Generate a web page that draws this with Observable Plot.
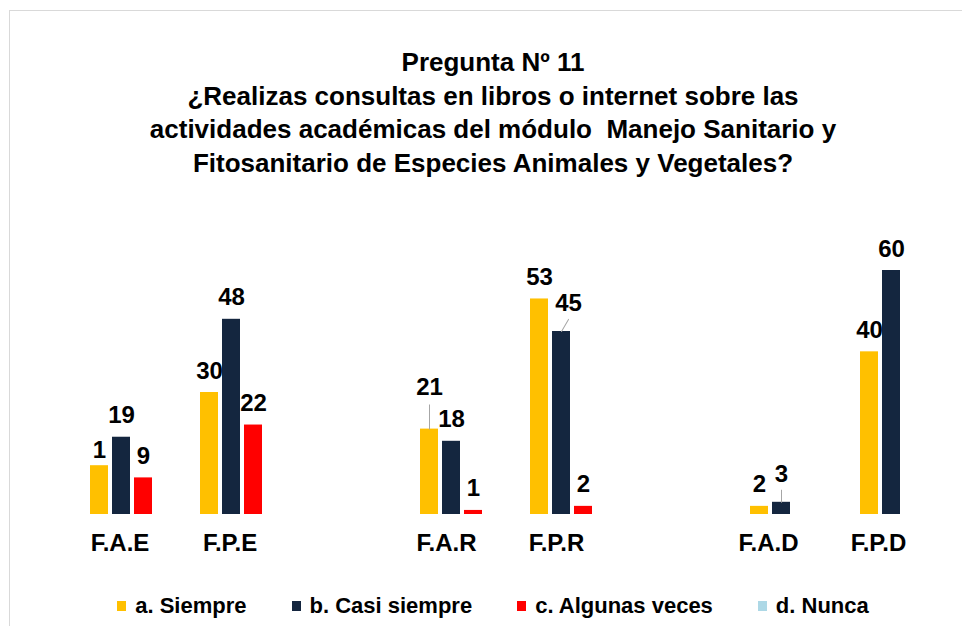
<!DOCTYPE html>
<html><head><meta charset="utf-8">
<script src="https://cdn.jsdelivr.net/npm/d3@7"></script>
<script src="https://cdn.jsdelivr.net/npm/@observablehq/plot@0.6"></script>
<style>
html,body{margin:0;padding:0;background:#fff;}
#wrap{position:relative;width:962px;height:626px;overflow:hidden;font-family:"Liberation Sans",Arial,sans-serif;color:#000;}
#frame{position:absolute;left:9px;top:10px;width:1000px;height:700px;border-top:1px solid #d9d9d9;border-left:1px solid #d9d9d9;}
#title{position:absolute;left:9px;width:968px;top:46px;text-align:center;font-weight:bold;font-size:26px;line-height:33.5px;}
#chart{position:absolute;left:0;top:200px;}
#legend{position:absolute;left:9px;width:968px;top:593px;display:flex;justify-content:center;gap:45px;font-weight:bold;font-size:22px;line-height:26px;}
.item{display:flex;align-items:center;white-space:nowrap;}
.sw{width:9px;height:10px;margin-right:9px;display:inline-block;}
</style></head>
<body>
<div id="wrap">
  <div id="frame"></div>
  <div id="title">Pregunta Nº 11<br>¿Realizas consultas en libros o internet sobre las<br>actividades académicas del módulo&nbsp; Manejo Sanitario y<br>Fitosanitario de Especies Animales y Vegetales?</div>
  <div id="chart"></div>
  <div id="legend"></div>
</div>
<script>
const categories = ["F.A.E", "F.P.E", "F.A.R", "F.P.R", "F.A.D", "F.P.D"];
const slots = ["F.A.E", "F.P.E", "gap1", "F.A.R", "F.P.R", "gap2", "F.A.D", "F.P.D"];
const seriesNames = ["a. Siempre", "b. Casi siempre", "c. Algunas veces", "d. Nunca"];
const seriesColors = ["#FFC000", "#14263F", "#FF0000", "#ADD8E6"];
const siempre = [12, 30, 21, 53, 2, 40];
const casiSiempre = [19, 48, 18, 45, 3, 60];
const algunasVeces = [9, 22, 1, 2, null, null];
const nunca = [null, null, null, null, null, null];
const siempreLabels = ["1", "30", "21", "53", "2", "40"];

const seriesValues = [siempre, casiSiempre, algunasVeces, nunca];
const rows = [];
categories.forEach((c, i) => {
  seriesValues.forEach((vals, s) => {
    const v = vals[i];
    if (v == null) return;
    rows.push({category: c, series: seriesNames[s], value: v,
      label: s === 0 ? siempreLabels[i] : String(v), key: c + "|" + seriesNames[s]});
  });
});

// label placement tweaks (pixels), leader lines
const nudges = {
  "F.A.E|a. Siempre": {dx: 0, dy: -8},
  "F.A.R|a. Siempre": {dx: 0, dy: -34, leader: 24, rotate: 0},
  "F.P.R|b. Casi siempre": {dx: 7, dy: -21, leader: 14, rotate: 30},
  "F.A.D|b. Casi siempre": {dx: 0, dy: -20, leader: 12, rotate: 0}
};
// category label shifts (pixels)
const axisGroups = [
  {ticks: ["F.A.E", "F.P.E"], dx: -1.5},
  {ticks: ["F.A.R", "F.P.R"], dx: -5},
  {ticks: ["F.A.D", "F.P.D"], dx: -13}
];

const labelStyle = {fx: "category", x: "series", y: "value", text: "label", lineAnchor: "bottom",
  fontSize: 24, fontWeight: "bold", fill: "#000"};

const marks = [
  Plot.barY(rows, {fx: "category", x: "series", y: "value", fill: "series"}),
  Plot.text(rows.filter(d => !nudges[d.key]), {...labelStyle, dy: -14})
];
for (const [key, n] of Object.entries(nudges)) {
  const sub = rows.filter(d => d.key === key);
  marks.push(Plot.text(sub, {...labelStyle, dx: n.dx, dy: n.dy}));
  if (n.leader) {
    marks.push(Plot.vector(sub, {fx: "category", x: "series", y: "value", length: n.leader, rotate: n.rotate,
      anchor: "start", r: 0, stroke: "#a6a6a6", strokeWidth: 1}));
  }
}
for (const g of axisGroups) {
  marks.push(Plot.axisFx({anchor: "bottom", ticks: g.ticks, dx: g.dx, tickSize: 0, tickPadding: 19,
    fontSize: 24, fontWeight: "bold", fill: "#000", label: null}));
}

const chart = Plot.plot({
  width: 962, height: 364,
  marginTop: 70, marginBottom: 50, marginLeft: 66, marginRight: 16,
  fx: {domain: slots, paddingInner: 0.4, paddingOuter: 0.2, axis: null},
  x: {domain: seriesNames.slice(0, 3), paddingInner: 4 / 22, paddingOuter: 2 / 22, axis: null},
  y: {domain: [0, 60], axis: null},
  color: {domain: seriesNames, range: seriesColors},
  style: {fontFamily: "'Liberation Sans', Arial, sans-serif", fontWeight: "bold", color: "#000", background: "transparent", overflow: "visible"},
  marks
});
document.getElementById("chart").appendChild(chart);

const legend = document.getElementById("legend");
seriesNames.forEach((name, i) => {
  const item = document.createElement("div");
  item.className = "item";
  const sw = document.createElement("span");
  sw.className = "sw";
  sw.style.background = seriesColors[i];
  item.appendChild(sw);
  item.appendChild(document.createTextNode(name));
  legend.appendChild(item);
});
</script>
</body></html>
